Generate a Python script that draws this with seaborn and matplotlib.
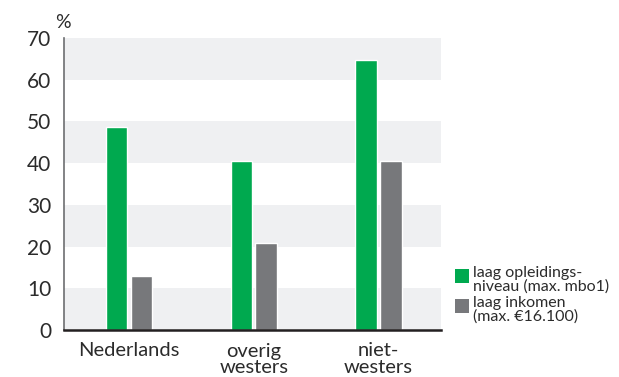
import matplotlib
matplotlib.use("Agg")
import matplotlib.pyplot as plt
import seaborn as sns
import pandas as pd
from matplotlib.patches import Rectangle

# Data
categories = ["Nederlands", "overig\nwesters", "niet-\nwesters"]
series_names = ["laag opleidings-\nniveau (max. mbo1)", "laag inkomen\n(max. €16.100)"]
laag_opleiding = [48.7, 40.5, 64.7]
laag_inkomen = [12.9, 20.9, 40.5]
y_ticks = [0, 10, 20, 30, 40, 50, 60, 70]

green = "#00A94F"
gray = "#77787B"
band = "#EFF0F2"
text_color = "#2B2B2B"

df = pd.DataFrame({
    "herkomst": categories * 2,
    "kenmerk": [series_names[0]] * 3 + [series_names[1]] * 3,
    "pct": laag_opleiding + laag_inkomen,
})

sns.set_theme(style="white")
plt.rcParams["font.family"] = ["Lato", "DejaVu Sans"]

fig = plt.figure(figsize=(6.19, 3.77), dpi=100)
ax = fig.add_axes([64 / 619, 1 - 330 / 377, (441 - 64) / 619, (330 - 38) / 377])

# background bands
for lo in range(0, 70, 20):
    ax.axhspan(lo, lo + 10, color=band, lw=0, zorder=0)

sns.barplot(data=df, x="herkomst", y="pct", hue="kenmerk",
            palette=[green, gray], width=0.4, gap=0.14, saturation=1,
            legend=False, ax=ax, zorder=2)

ax.set_xlim(-0.52, 2.5)
ax.set_ylim(0, 70)
ax.set_yticks(y_ticks)
ax.set_xlabel("")
ax.set_ylabel("")

ax.tick_params(axis="y", length=0, pad=9, labelsize=15, labelcolor=text_color)
ax.tick_params(axis="x", length=0, pad=9, labelsize=14.5, labelcolor=text_color)
for lab in ax.get_xticklabels():
    lab.set_linespacing(0.98)
    lab.set_verticalalignment("top")

for s in ["top", "right"]:
    ax.spines[s].set_visible(False)
ax.spines["left"].set_color("#6D6E71")
ax.spines["left"].set_linewidth(1.2)
ax.spines["bottom"].set_color("#231F20")
ax.spines["bottom"].set_linewidth(1.8)
ax.set_facecolor("white")

# % label
fig.text(55 / 619, 1 - 28 / 377, "%", fontsize=14, color=text_color,
         ha="left", va="baseline")

# legend
colors = [green, gray]
tops = [269, 299]
for c, t, name in zip(colors, tops, series_names):
    fig.add_artist(Rectangle((455 / 619, 1 - (t + 14) / 377), 14 / 619, 14 / 377,
                             transform=fig.transFigure, color=c, lw=0))
    fig.text(473 / 619, 1 - (t - 3) / 377, name, fontsize=11.5, color=text_color,
             ha="left", va="top", linespacing=0.92)

fig.savefig("out.png", dpi=100)
